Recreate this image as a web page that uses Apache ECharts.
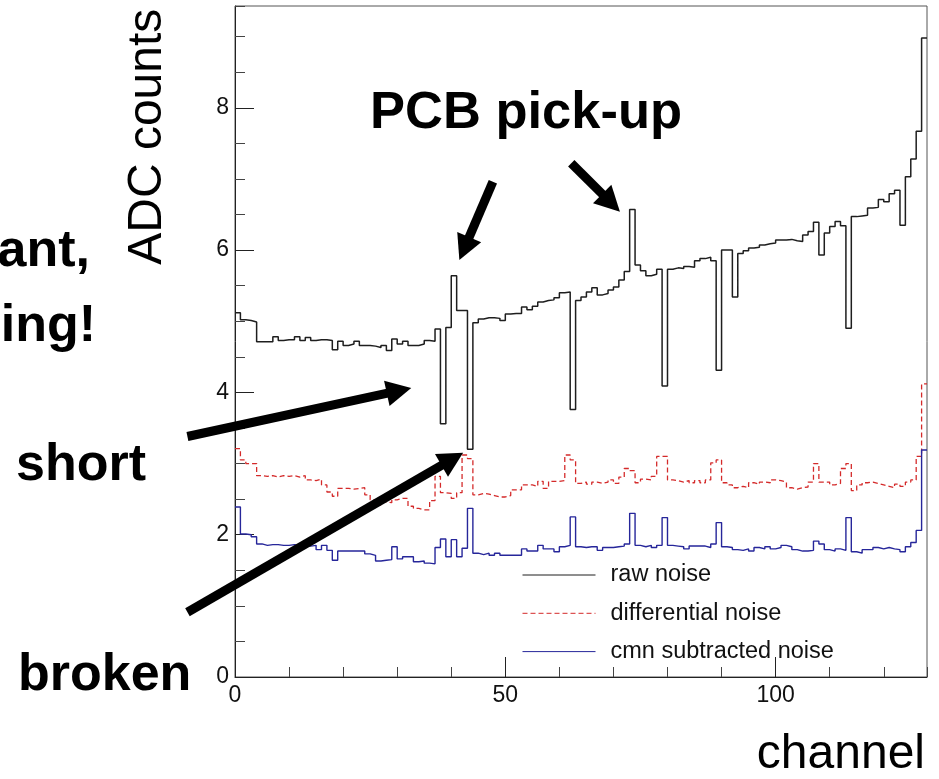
<!DOCTYPE html>
<html>
<head>
<meta charset="utf-8">
<script src="https://cdn.jsdelivr.net/npm/echarts@6/dist/echarts.min.js"></script>
<style>
  html, body { margin: 0; padding: 0; background: #ffffff; }
  #chart { width: 939px; height: 779px; }
</style>
</head>
<body>
<div id="chart"></div>
<script>
// Per-channel noise of a 128-channel readout chip (ADC counts)
const channelCount = 128;

const rawNoise = [
  5.12, 5.02, 5.01, 4.99, 4.71, 4.71, 4.71, 4.78, 4.73, 4.74,
  4.74, 4.78, 4.73, 4.77, 4.73, 4.74, 4.74, 4.73, 4.60, 4.72,
  4.66, 4.68, 4.72, 4.66, 4.66, 4.65, 4.63, 4.66, 4.59, 4.75,
  4.68, 4.72, 4.66, 4.66, 4.68, 4.73, 4.72, 4.89, 3.56, 4.91,
  5.64, 5.15, 5.15, 3.20, 4.98, 5.03, 5.05, 5.05, 5.04, 5.01,
  5.10, 5.11, 5.11, 5.20, 5.16, 5.21, 5.27, 5.29, 5.30, 5.33,
  5.40, 5.41, 3.76, 5.29, 5.34, 5.41, 5.47, 5.37, 5.39, 5.44,
  5.48, 5.58, 5.70, 6.57, 5.79, 5.71, 5.64, 5.66, 5.73, 4.09,
  5.73, 5.75, 5.74, 5.77, 5.76, 5.85, 5.88, 5.90, 5.85, 4.31,
  6.00, 6.00, 5.34, 5.95, 5.99, 6.03, 6.04, 6.07, 6.09, 6.10,
  6.14, 6.14, 6.15, 6.13, 6.12, 6.21, 6.26, 6.39, 5.93, 6.24,
  6.33, 6.40, 6.34, 4.90, 6.47, 6.48, 6.49, 6.59, 6.60, 6.71,
  6.68, 6.79, 6.84, 6.35, 7.03, 7.28, 7.67, 8.98
];

const differentialNoise = [
  3.21, 3.05, 3.00, 3.00, 2.83, 2.82, 2.83, 2.81, 2.83, 2.82,
  2.83, 2.81, 2.83, 2.77, 2.76, 2.78, 2.70, 2.60, 2.54, 2.65,
  2.65, 2.64, 2.65, 2.66, 2.56, 2.49, 2.42, 2.46, 2.45, 2.49,
  2.51, 2.51, 2.40, 2.37, 2.35, 2.35, 2.48, 2.82, 2.59, 2.58,
  2.51, 2.59, 3.12, 3.07, 2.56, 2.58, 2.57, 2.55, 2.53, 2.53,
  2.55, 2.63, 2.63, 2.70, 2.70, 2.68, 2.75, 2.65, 2.75, 2.75,
  2.76, 3.12, 3.05, 2.72, 2.74, 2.71, 2.74, 2.72, 2.74, 2.77,
  2.72, 2.81, 2.93, 2.90, 2.73, 2.78, 2.77, 2.82, 3.10, 3.10,
  2.77, 2.76, 2.74, 2.76, 2.73, 2.76, 2.73, 2.77, 3.01, 3.05,
  2.73, 2.70, 2.66, 2.68, 2.66, 2.73, 2.71, 2.74, 2.73, 2.77,
  2.76, 2.74, 2.66, 2.64, 2.66, 2.67, 2.74, 3.00, 2.74, 2.74,
  2.70, 2.72, 2.93, 3.00, 2.62, 2.70, 2.73, 2.74, 2.72, 2.70,
  2.68, 2.66, 2.71, 2.68, 2.74, 2.77, 3.10, 4.12
];

const cmnSubtractedNoise = [
  2.39, 2.01, 2.00, 1.97, 1.87, 1.85, 1.86, 1.86, 1.85, 1.85,
  1.86, 1.85, 1.85, 1.84, 1.85, 1.79, 1.85, 1.78, 1.64, 1.77,
  1.77, 1.77, 1.77, 1.77, 1.73, 1.71, 1.63, 1.64, 1.65, 1.83,
  1.66, 1.69, 1.69, 1.62, 1.63, 1.60, 1.59, 1.82, 1.94, 1.69,
  1.93, 1.69, 1.81, 2.37, 1.74, 1.72, 1.74, 1.71, 1.74, 1.71,
  1.71, 1.71, 1.71, 1.80, 1.77, 1.77, 1.85, 1.80, 1.80, 1.76,
  1.83, 1.85, 2.25, 1.83, 1.82, 1.83, 1.83, 1.78, 1.82, 1.82,
  1.83, 1.84, 1.87, 2.30, 1.85, 1.83, 1.85, 1.82, 1.85, 2.24,
  1.85, 1.84, 1.83, 1.80, 1.84, 1.84, 1.84, 1.82, 1.87, 2.17,
  1.83, 1.82, 1.79, 1.78, 1.80, 1.77, 1.82, 1.80, 1.83, 1.80,
  1.82, 1.85, 1.83, 1.79, 1.77, 1.77, 1.78, 1.91, 1.87, 1.79,
  1.77, 1.80, 1.78, 2.24, 1.76, 1.74, 1.79, 1.79, 1.82, 1.80,
  1.82, 1.80, 1.79, 1.76, 1.83, 1.89, 2.06, 3.19
];

const seriesNames = ['raw noise', 'differential noise', 'cmn subtracted noise'];

// Axis ranges and tick spacing
const xRange = [0, channelCount];
const yRange = [0, 9.43];
const xMajorStep = 50, xMinorStep = 10;
const yMajorStep = 2, yMinorStep = 0.5;

// Annotation arrows, anchored in (channel, ADC counts) space: [tail, tip]
const arrows = [
  [[47.7, 6.96], [41.5, 5.86]],   // PCB pick-up, channel 40
  [[62.2, 7.22], [71.2, 6.54]],   // PCB pick-up, channel 73
  [[-8.8, 3.38], [32.6, 4.06]],   // short
  [[-8.8, 0.91], [42.2, 3.15]]    // broken
];

const FONT = '"Liberation Sans", Arial, Helvetica, sans-serif';

// A histogram is drawn as a step line: each bin value holds from channel i to i+1
function toHistogramSteps(values) {
  const pts = values.map((v, i) => [i, v]);
  pts.push([values.length, values[values.length - 1]]);
  return pts;
}

const chart = echarts.init(document.getElementById('chart'), null, {
  renderer: 'canvas', width: 939, height: 779
});

function tickAxis(extra) {
  return Object.assign({
    type: 'value',
    splitLine: { show: false },
    axisLine: { show: false },
    axisLabel: { show: false }
  }, extra);
}

const option = {
  animation: false,
  backgroundColor: '#ffffff',
  grid: {
    left: 235, top: 6, right: 12, bottom: 102,
    show: true, borderColor: '#555555', borderWidth: 1,
    backgroundColor: 'transparent',
    outerBoundsMode: 'none'
  },
  xAxis: [
    tickAxis({
      min: xRange[0], max: xRange[1], interval: xMinorStep, position: 'bottom',
      axisLine: { show: true, onZero: false, lineStyle: { color: '#222222', width: 1 } },
      axisTick: { inside: true, length: 10, lineStyle: { color: '#444444', width: 1 } }
    }),
    tickAxis({
      min: xRange[0], max: xRange[1], interval: xMajorStep, position: 'bottom',
      axisTick: { inside: true, length: 20, lineStyle: { color: '#222222', width: 1 } },
      axisLabel: {
        show: true, showMaxLabel: false, margin: 7,
        fontFamily: FONT, fontSize: 23, color: '#111111'
      }
    })
  ],
  yAxis: [
    tickAxis({
      min: yRange[0], max: yRange[1], interval: yMinorStep, position: 'left',
      axisLine: { show: true, onZero: false, lineStyle: { color: '#222222', width: 1 } },
      axisTick: { inside: true, length: 10, lineStyle: { color: '#444444', width: 1 } }
    }),
    tickAxis({
      min: yRange[0], max: yRange[1], interval: yMajorStep, position: 'left',
      axisTick: { inside: true, length: 19, lineStyle: { color: '#222222', width: 1 } },
      axisLabel: {
        show: true, showMaxLabel: false, margin: 6,
        fontFamily: FONT, fontSize: 23, color: '#111111'
      }
    })
  ],
  legend: {
    orient: 'vertical',
    left: 522, top: 563,
    padding: 0,
    itemWidth: 73, itemHeight: 24, itemGap: 14.3,
    selectedMode: false,
    data: seriesNames,
    itemStyle: { opacity: 0 },
    lineStyle: { width: 1 },
    textStyle: {
      fontFamily: FONT, fontSize: 23.5, color: '#111111',
      lineHeight: 24, padding: [0, 0, 0, 10]
    }
  },
  series: [
    {
      name: seriesNames[0], type: 'line', step: 'end',
      data: toHistogramSteps(rawNoise),
      symbol: 'none', showSymbol: false, silent: true,
      itemStyle: { color: '#1e1e1e' },
      lineStyle: { color: '#1e1e1e', width: 1.5 },
      z: 3
    },
    {
      name: seriesNames[1], type: 'line', step: 'end',
      data: toHistogramSteps(differentialNoise),
      symbol: 'none', showSymbol: false, silent: true,
      itemStyle: { color: '#d42a2a' },
      lineStyle: { color: '#d42a2a', width: 1.3, type: [5, 3] },
      z: 2
    },
    {
      name: seriesNames[2], type: 'line', step: 'end',
      data: toHistogramSteps(cmnSubtractedNoise),
      symbol: 'none', showSymbol: false, silent: true,
      itemStyle: { color: '#26269a' },
      lineStyle: { color: '#26269a', width: 1.4 },
      z: 2
    }
  ]
};

chart.setOption(option);

// Thick annotation arrows, converted from data space to pixels
function arrowGraphics(tailData, tipData) {
  const tail = chart.convertToPixel({ xAxisIndex: 0, yAxisIndex: 0 }, tailData);
  const tip = chart.convertToPixel({ xAxisIndex: 0, yAxisIndex: 0 }, tipData);
  const dx = tip[0] - tail[0], dy = tip[1] - tail[1];
  const len = Math.sqrt(dx * dx + dy * dy);
  const ux = dx / len, uy = dy / len;
  const headLen = 25, headHalf = 13;
  const bx = tip[0] - ux * headLen, by = tip[1] - uy * headLen;
  const nx = -uy, ny = ux;
  return [
    {
      type: 'line', z: 100, silent: true,
      shape: { x1: tail[0], y1: tail[1], x2: bx + ux * 2, y2: by + uy * 2 },
      style: { stroke: '#000000', lineWidth: 9, lineCap: 'butt' }
    },
    {
      type: 'polygon', z: 100, silent: true,
      shape: { points: [[tip[0], tip[1]], [bx + nx * headHalf, by + ny * headHalf], [bx - nx * headHalf, by - ny * headHalf]] },
      style: { fill: '#000000' }
    }
  ];
}

function boldText(text, x, y, size, align) {
  return {
    type: 'text', z: 100, silent: true, x: x, y: y,
    style: {
      text: text, fill: '#000000',
      font: 'bold ' + size + 'px ' + FONT,
      textAlign: align, textVerticalAlign: 'middle'
    }
  };
}

const graphics = [];
arrows.forEach(a => graphics.push.apply(graphics, arrowGraphics(a[0], a[1])));
graphics.push(
  boldText('PCB pick-up', 370, 114, 52.5, 'left'),
  boldText('ant,', 90, 252, 52, 'right'),
  boldText('ing!', 96, 327, 52, 'right'),
  boldText('short', 16, 465.5, 52, 'left'),
  boldText('broken', 18, 675.5, 52, 'left'),
  {
    type: 'text', z: 100, silent: true, x: 148, y: 136.7, rotation: Math.PI / 2,
    style: {
      text: 'ADC counts', fill: '#000000', font: '48px ' + FONT,
      textAlign: 'center', textVerticalAlign: 'middle'
    }
  },
  {
    type: 'text', z: 100, silent: true, x: 925, y: 755,
    style: {
      text: 'channel', fill: '#000000', font: '48px ' + FONT,
      textAlign: 'right', textVerticalAlign: 'middle'
    }
  }
);

chart.setOption({ graphic: graphics });
</script>
</body>
</html>
